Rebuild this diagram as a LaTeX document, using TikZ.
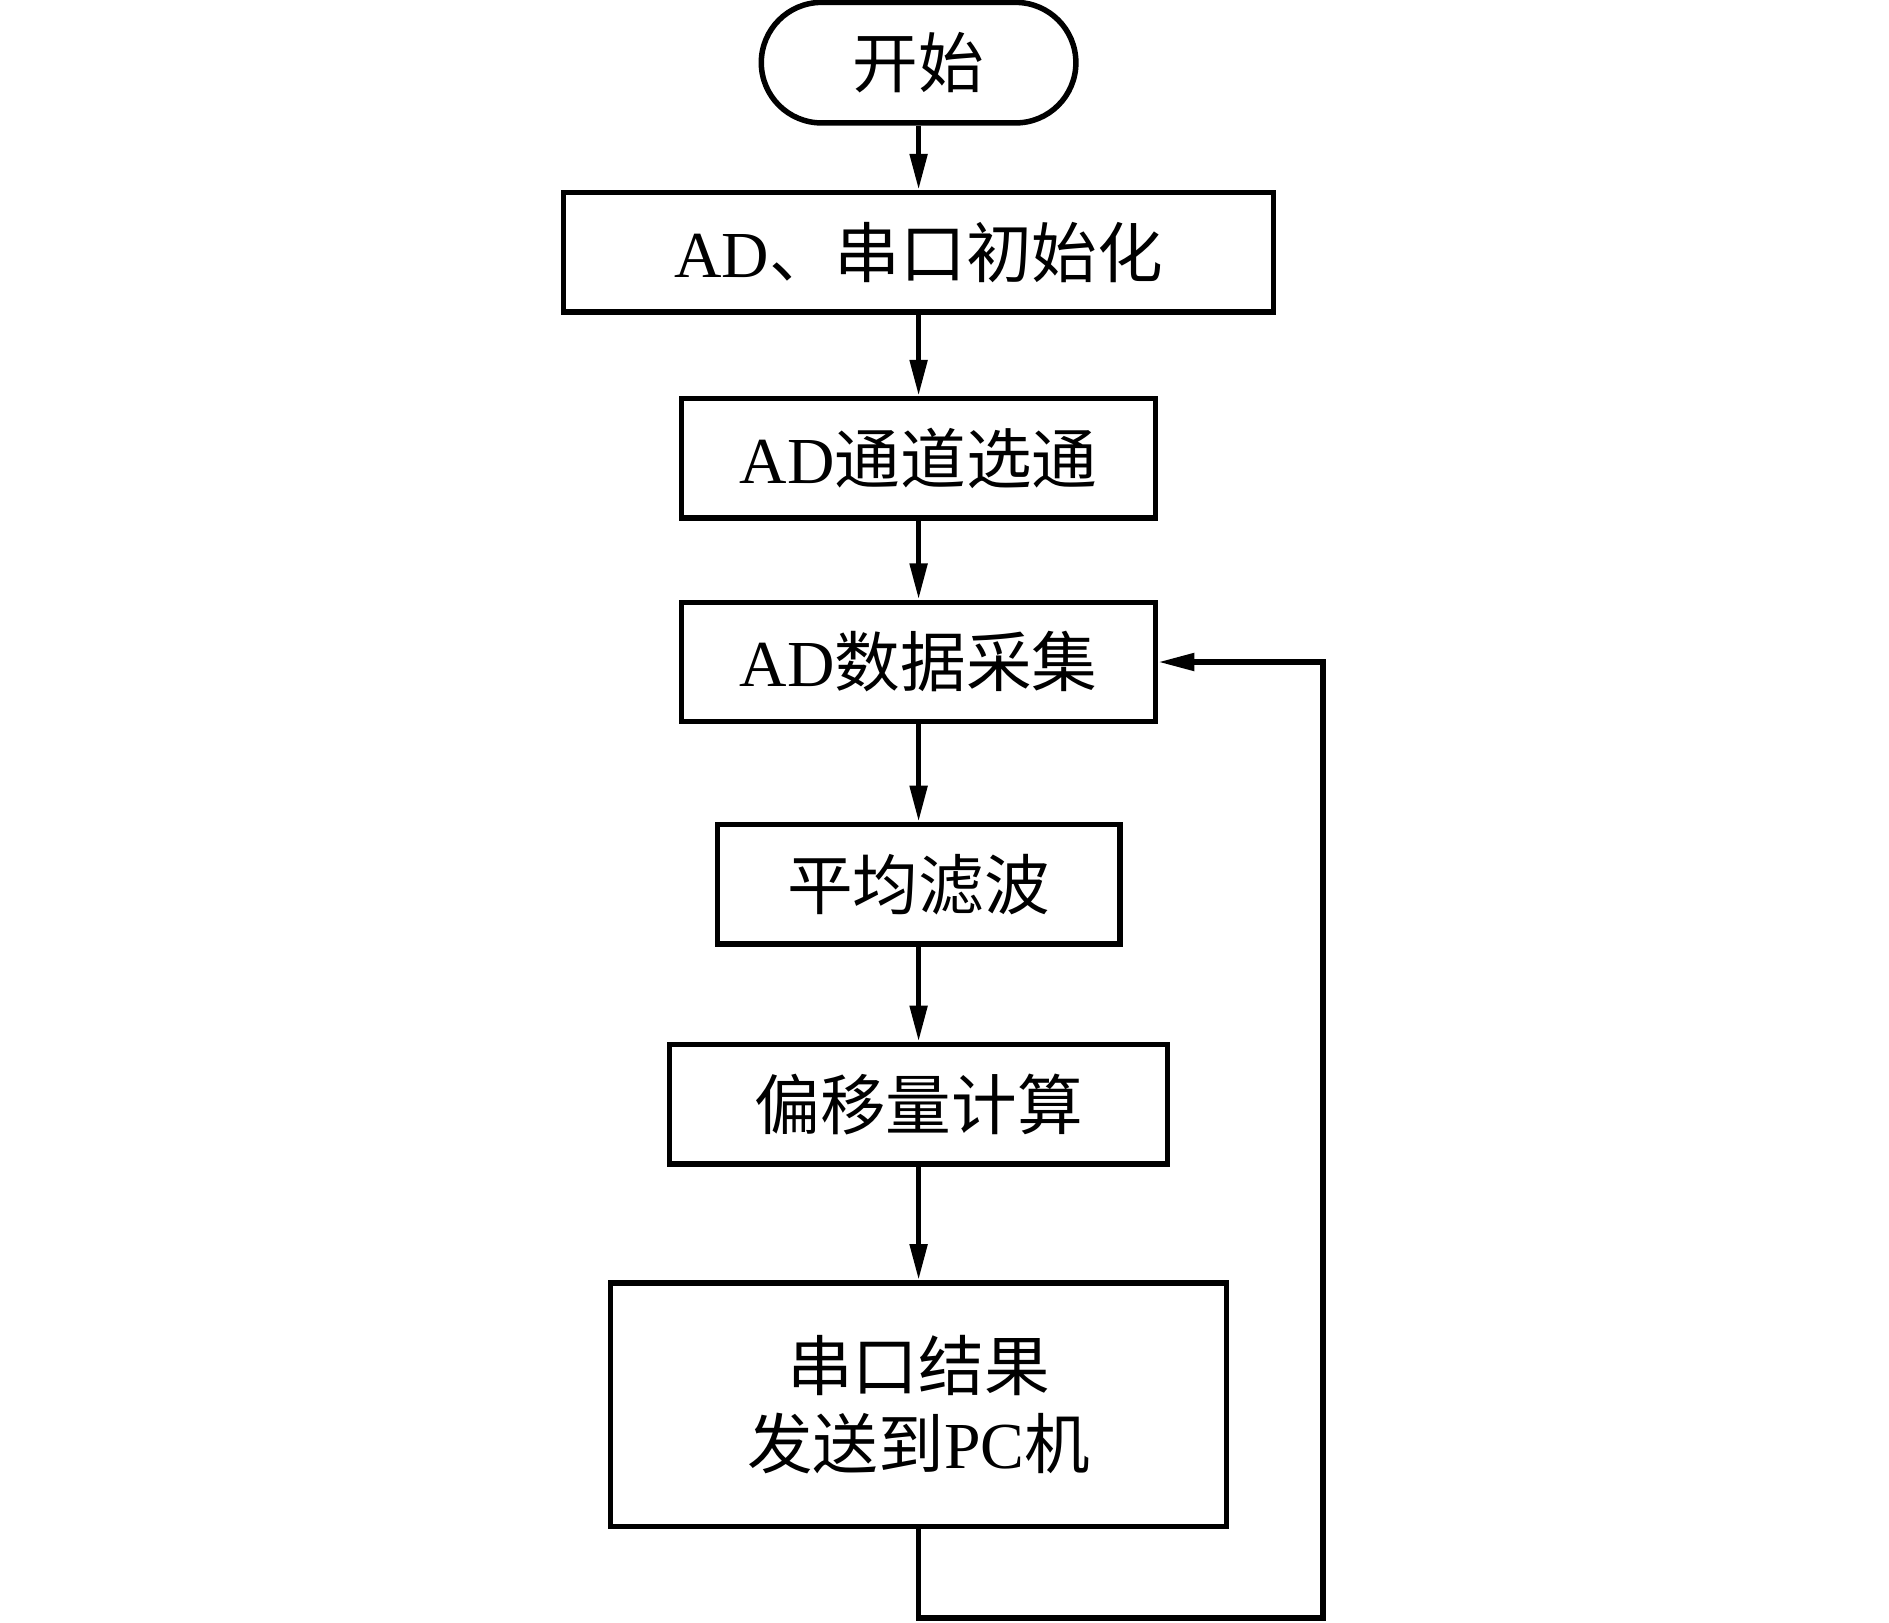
\documentclass[tikz,border=0pt]{standalone}
\usepackage{fontspec}
\setmainfont{Liberation Serif}
\newfontfamily\cjk{Noto Sans CJK SC}
\newcommand{\zh}[1]{{\cjk #1}}
\usetikzlibrary{arrows.meta}
\begin{document}
\begin{tikzpicture}[x=0.01cm,y=-0.01cm,
  line width=1.3pt,
  every node/.style={font=\fontsize{15.5pt}{18.5pt}\selectfont, inner sep=0pt},
  procbox/.style={draw, rectangle, minimum height=0.99cm, align=center},
  termbox/.style={draw, rectangle, rounded corners=0.5cm, minimum width=2.61cm, minimum height=1.0cm},
  arr/.style={-{Triangle[length=3mm,width=1.4mm]}}]
\useasboundingbox (0,0) rectangle (1568,1347);
\node[termbox] (s) at (762.5,52) {\zh{开始}};
\node[procbox, minimum width=5.89cm] (b1) at (762.5,209.5) {AD\zh{、串口初始化}};
\node[procbox, minimum width=3.93cm] (b2) at (762.5,380.5) {AD\zh{通道选通}};
\node[procbox, minimum width=3.93cm] (b3) at (762.5,549.5) {AD\zh{数据采集}};
\node[procbox, minimum width=3.34cm] (b4) at (762.5,734) {\zh{平均滤波}};
\node[procbox, minimum width=4.13cm] (b5) at (762.5,916.5) {\zh{偏移量计算}};
\node[procbox, minimum width=5.11cm, minimum height=2.02cm] (b6) at (762.5,1166) {\zh{串口结果}\\\zh{发送到}PC\zh{机}};
\coordinate (c2) at (1098,1343);
\draw[arr] (s.south) -- (b1.north);
\draw[arr] (b1.south) -- (b2.north);
\draw[arr] (b2.south) -- (b3.north);
\draw[arr] (b3.south) -- (b4.north);
\draw[arr] (b4.south) -- (b5.north);
\draw[arr] (b5.south) -- (b6.north);
\draw[arr] (b6.south) |- (c2) |- (b3.east);
\end{tikzpicture}
\end{document}
